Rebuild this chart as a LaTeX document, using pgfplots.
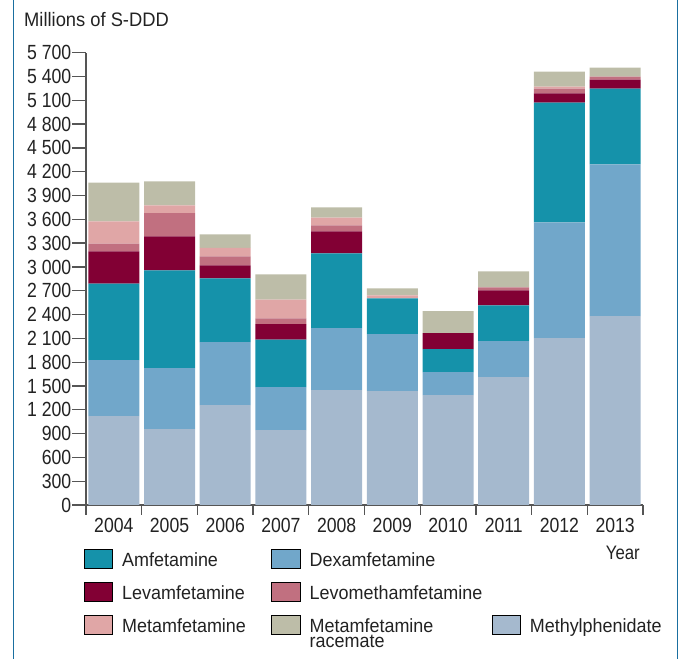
\documentclass[border=0pt]{standalone}
\usepackage{fontspec}
\setmainfont{Liberation Sans}[FakeStretch=0.94]
\newfontfamily\numfont{Liberation Sans}[FakeStretch=0.86]
\usepackage{pgfplots}
\usepackage{pgfplotstable}
\pgfplotsset{compat=1.18}

\definecolor{amfc}{HTML}{1592AA}
\definecolor{dexc}{HTML}{71A7CA}
\definecolor{levamfc}{HTML}{820034}
\definecolor{levomc}{HTML}{C17080}
\definecolor{metc}{HTML}{E0A6A6}
\definecolor{racc}{HTML}{BDBDA8}
\definecolor{methc}{HTML}{A5B9CE}
\definecolor{framec}{HTML}{1A6FA0}
\definecolor{axc}{HTML}{555555}
\definecolor{txtc}{HTML}{222222}

\pgfplotstableread{
x meth dex amf levamf levometh metamf racem
0 1120 705 965 407 97 280 488
1 957 767 1234 428 293 97 302
2 1259 793 805 164 113 105 172
3 944 541 600 193 75 236 318
4 1447 781 944 277 75 97 130
5 1435 717 453 0 0 38 88
6 1384 290 289 202 0 0 277
7 1611 453 453 189 38 0 201
8 2102 1460 1510 114 62 26 188
9 2379 1913 956 114 37 0 114
}\data

\pgfplotsset{sq/.style={legend image code/.code={\fill[##1] (0pt,-9.35pt) rectangle (28.5pt,9.35pt);}}}

\begin{document}
\begin{tikzpicture}
\useasboundingbox (0pt,0pt) rectangle (678pt,659pt);
\draw[framec, line width=1pt] (13pt,0pt) -- (13pt,659pt);
\draw[framec, line width=1pt] (677pt,0pt) -- (677pt,659pt);
\begin{axis}[
  at={(86pt,154pt)}, anchor=south west,
  scale only axis, width=557pt, height=452.3pt,
  ybar stacked, bar width=51pt,
  xmin=-0.5, xmax=9.5, ymin=0, ymax=5700,
  enlargelimits=false,
  axis lines*=left,
  axis line style={draw=axc, line width=1.3pt},
  tick align=outside,
  major tick length=12pt,
  every tick/.style={draw=axc, line width=1.3pt},
  y tick style={/pgfplots/major tick length=14pt},
  x tick style={/pgfplots/major tick length=10pt},
  xtick={-0.5,0.5,...,9.5},
  x tick label as interval,
  xticklabels={2004,2005,2006,2007,2008,2009,2010,2011,2012,2013},
  ytick={0,300,...,5700},
  /pgf/number format/assume math mode=true,
  /pgf/number format/1000 sep={\ },
  tick label style={font=\numfont\fontsize{20.5}{24}\selectfont, text=txtc},
  xticklabel style={inner sep=1pt},
  yticklabel style={inner sep=2.5pt},
  xlabel={Year},
  ylabel={Millions of S-DDD},
  every axis x label/.style={at={(axis description cs:0.9946,-0.1216)}, anchor=base east, inner sep=0pt, font=\numfont\fontsize{19.5}{22}\selectfont, text=txtc},
  every axis y label/.style={at={(axis description cs:-0.1113,1.0575)}, anchor=base west, inner sep=0pt, font=\fontsize{19.5}{22}\selectfont, text=txtc},
  legend columns=3,
  legend cell align=left,
  legend style={at={(axis description cs:-0.0036,-0.0973)}, anchor=north west,
    draw=none, fill=none, inner sep=0pt, outer sep=0pt,
    /tikz/column sep=9.3pt, /tikz/row sep=13.8pt,
    font=\fontsize{19.1}{22}\selectfont, text=txtc,
    nodes={inner sep=0pt, text height=17pt, text depth=1.6pt}},
]
\addplot[forget plot, fill=methc, draw=none] table[x=x, y=meth] {\data};
\addplot[forget plot, fill=dexc, draw=none] table[x=x, y=dex] {\data};
\addplot[forget plot, fill=amfc, draw=none] table[x=x, y=amf] {\data};
\addplot[forget plot, fill=levamfc, draw=none] table[x=x, y=levamf] {\data};
\addplot[forget plot, fill=levomc, draw=none] table[x=x, y=levometh] {\data};
\addplot[forget plot, fill=metc, draw=none] table[x=x, y=metamf] {\data};
\addplot[forget plot, fill=racc, draw=none] table[x=x, y=racem] {\data};

\addlegendimage{sq, fill=amfc}\addlegendentry{\makebox[140pt][l]{Amfetamine}}
\addlegendimage{sq, fill=dexc}\addlegendentry{\makebox[152.5pt][l]{Dexamfetamine}}
\addlegendimage{empty legend}\addlegendentry{}
\addlegendimage{sq, fill=levamfc}\addlegendentry{Levamfetamine}
\addlegendimage{sq, fill=levomc}\addlegendentry{Levomethamfetamine}
\addlegendimage{empty legend}\addlegendentry{}
\addlegendimage{sq, fill=metc}\addlegendentry{Metamfetamine}
\addlegendimage{sq, fill=racc}\addlegendentry{\smash{\vtop{\baselineskip=15.7pt\hbox{Metamfetamine}\hbox{racemate}}}}
\addlegendimage{sq, fill=methc}\addlegendentry{Methylphenidate}
\end{axis}
\end{tikzpicture}
\end{document}
